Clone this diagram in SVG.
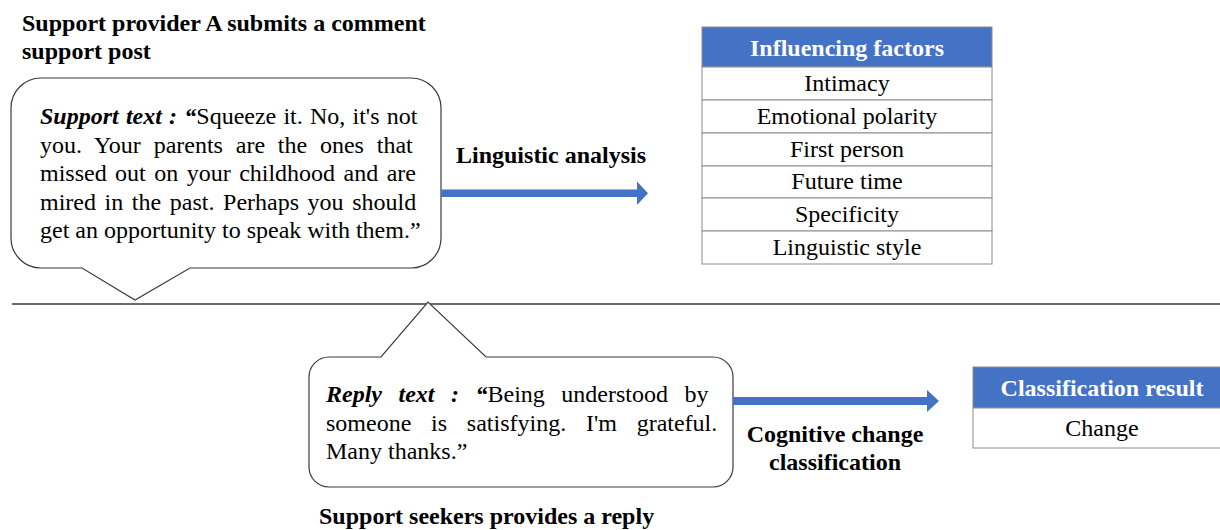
<svg xmlns="http://www.w3.org/2000/svg" width="1220" height="530" viewBox="0 0 1220 530" font-family="'Liberation Serif', 'Times New Roman', 'DejaVu Serif', serif" font-size="24">
  <style>
    text { font-family: 'Liberation Serif', 'Times New Roman', 'DejaVu Serif', serif; font-size: 24px; fill: #000; }
    .bold { font-weight: bold; }
    .bi { font-weight: bold; font-style: italic; }
    .mid { text-anchor: middle; }
    .hdr-text { font-weight: bold; fill: #fff; text-anchor: middle; }
    .bubble { fill: #fff; stroke: #3a3a3a; stroke-width: 1.2; }
    .cell { fill: #fff; stroke: #8c8c8c; stroke-width: 1; }
    .hdr { fill: #4472C4; stroke: #8c8c8c; stroke-width: 1; }
    .block-arrow { fill: #4472C4; }
    .divider { stroke: #6b6b6b; stroke-width: 1.8; fill: none; }
  </style>

  <rect width="1220" height="530" fill="#fff"/>

  <!-- heading of the upper half -->
  <g id="provider-heading">
    <text class="bold" x="22" y="31">Support provider A submits a comment</text>
    <text class="bold" x="22" y="59">support post</text>
  </g>

  <!-- separator between the two halves -->
  <g id="divider">
    <line class="divider" x1="12" y1="304" x2="1220" y2="304"/>
  </g>

  <!-- support-text callout -->
  <g id="support-bubble">
    <path class="bubble" d="M41,78 H411 A30,30 0 0 1 441,108 V238 A30,30 0 0 1 411,268 H190 L135,300 L82,268 H41 A30,30 0 0 1 11,238 V108 A30,30 0 0 1 41,78 Z"/>
    <text x="40" y="124" word-spacing="1.2"><tspan class="bi">Support text : “</tspan>Squeeze it. No, it's not</text>
    <text x="40" y="152.5" word-spacing="6.8">you. Your parents are the ones that</text>
    <text x="40" y="181" word-spacing="2.45">missed out on your childhood and are</text>
    <text x="40" y="209.5" word-spacing="2.6">mired in the past. Perhaps you should</text>
    <text x="40" y="238">get an opportunity to speak with them.”</text>
  </g>

  <!-- reply-text callout -->
  <g id="reply-bubble">
    <path class="bubble" d="M329,357 H381 L428,302 L486,357 H713 A20,20 0 0 1 733,377 V467 A20,20 0 0 1 713,487 H329 A20,20 0 0 1 309,467 V377 A20,20 0 0 1 329,357 Z"/>
    <text x="326" y="402" word-spacing="10.5"><tspan class="bi">Reply text : “</tspan>Being understood by</text>
    <text x="326" y="430.5" word-spacing="13.75">someone is satisfying. I'm grateful.</text>
    <text x="326" y="459">Many thanks.”</text>
  </g>

  <!-- caption of the lower half -->
  <g id="seeker-caption">
    <text class="bold" x="319" y="524">Support seekers provides a reply</text>
  </g>

  <!-- process arrows and their labels -->
  <g id="connectors">
    <polygon class="block-arrow" points="441,189.5 637,189.5 637,181.5 648,193.3 637,205 637,197 441,197"/>
    <polygon class="block-arrow" points="733,397 927,397 927,390 939,401 927,412 927,405 733,405"/>
    <text class="bold" x="456" y="163">Linguistic analysis</text>
    <text class="bold mid" x="835" y="442">Cognitive change</text>
    <text class="bold mid" x="835" y="470">classification</text>
  </g>

  <!-- influencing factors table -->
  <g id="factors-table">
    <rect class="hdr" x="702" y="27" width="290" height="40"/>
    <rect class="cell" x="702" y="67" width="290" height="33"/>
    <rect class="cell" x="702" y="100" width="290" height="33"/>
    <rect class="cell" x="702" y="133" width="290" height="33"/>
    <rect class="cell" x="702" y="166" width="290" height="32"/>
    <rect class="cell" x="702" y="198" width="290" height="33"/>
    <rect class="cell" x="702" y="231" width="290" height="33"/>
    <text class="hdr-text" x="847" y="56">Influencing factors</text>
    <text class="mid" x="847" y="90.5">Intimacy</text>
    <text class="mid" x="847" y="123.5">Emotional polarity</text>
    <text class="mid" x="847" y="156.5">First person</text>
    <text class="mid" x="847" y="189">Future time</text>
    <text class="mid" x="847" y="221.5">Specificity</text>
    <text class="mid" x="847" y="254.5">Linguistic style</text>
  </g>

  <!-- classification result table -->
  <g id="result-table">
    <rect class="hdr" x="973" y="367" width="258" height="41"/>
    <rect class="cell" x="973" y="408" width="258" height="40"/>
    <text class="hdr-text" x="1102" y="396">Classification result</text>
    <text class="mid" x="1102" y="436">Change</text>
  </g>
</svg>
